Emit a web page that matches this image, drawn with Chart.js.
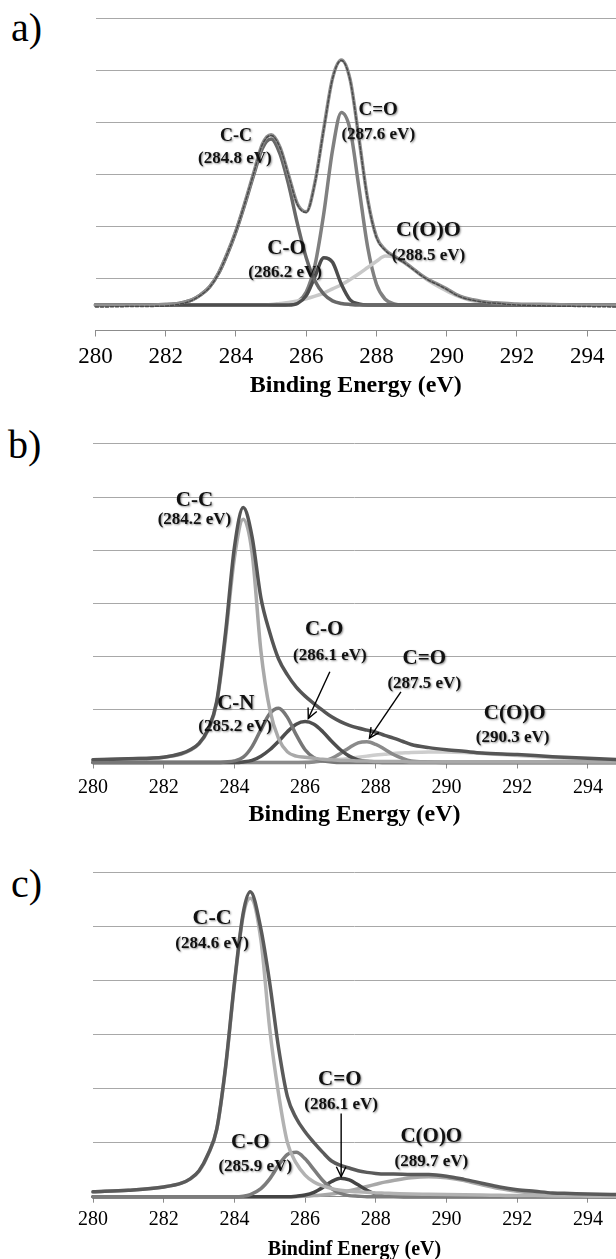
<!DOCTYPE html>
<html><head><meta charset="utf-8">
<script src="https://cdn.jsdelivr.net/npm/chart.js@4.4.1/dist/chart.umd.min.js"></script>
<style>
html,body{margin:0;padding:0;background:#fff;width:616px;height:1259px;overflow:hidden;position:relative;}
.panel{position:absolute;font-family:"Liberation Serif","Times New Roman",serif;font-size:40px;line-height:40px;color:#000;}
canvas{position:absolute;left:0;}
</style></head><body>
<div class="panel" style="left:11px;top:8px">a)</div>
<div class="panel" style="left:8px;top:425px">b)</div>
<div class="panel" style="left:11px;top:864px">c)</div>
<canvas id="ca" width="616" height="410" style="top:0px"></canvas>
<canvas id="cb" width="616" height="420" style="top:415px"></canvas>
<canvas id="cc" width="616" height="430" style="top:840px"></canvas>
<script>
// ---------------- data: panel a ----------------
const energyA = [280,281,282,282.25,282.5,282.75,283,283.25,283.5,283.75,284,284.25,284.5,284.75,285,285.25,285.5,285.75,286,286.25,286.5,286.75,287,287.25,287.5,287.75,288,288.25,288.5,288.75,289,289.25,289.5,289.75,290,290.25,290.5,290.75,291,291.25,291.5,291.75,292,293,294,295];
const measuredA = [.45,.46,.47,.49,.52,.58,.68,.83,1.09,1.47,1.91,2.44,3.01,3.57,3.75,3.52,2.97,2.42,2.27,2.84,3.87,4.84,5.19,4.81,3.69,2.51,1.79,1.54,1.42,1.32,1.2,1.07,.96,.88,.79,.69,.62,.58,.55,.53,.52,.5,.49,.47,.46,.45];
const envelopeA = [.49,.49,.50,.51,.54,.59,.69,.84,1.10,1.48,1.92,2.45,3.02,3.58,3.76,3.53,2.98,2.43,2.28,2.85,3.88,4.85,5.20,4.82,3.70,2.52,1.80,1.55,1.43,1.33,1.21,1.08,.97,.89,.80,.70,.63,.59,.56,.54,.53,.52,.51,.50,.49,.49];
const ccA = [.49,.49,.50,.51,.54,.59,.69,.84,1.09,1.46,1.90,2.42,2.98,3.50,3.68,3.40,2.80,2.05,1.40,.95,.70,.57,.52,.50,.49,.49,.49,.49,.49,.49,.49,.49,.49,.49,.49,.49,.49,.49,.49,.49,.49,.49,.49,.49,.49,.49];
const coA = [.49,.49,.49,.49,.49,.49,.49,.49,.49,.49,.49,.49,.49,.49,.49,.49,.49,.52,.67,1.04,1.40,1.31,.89,.59,.51,.49,.49,.49,.49,.49,.49,.49,.49,.49,.49,.49,.49,.49,.49,.49,.49,.49,.49,.49,.49,.49];
const cdoA = [.49,.49,.49,.49,.49,.49,.49,.49,.49,.49,.49,.49,.49,.49,.49,.49,.50,.55,.74,1.26,2.25,3.47,4.19,3.86,2.75,1.60,.89,.60,.51,.49,.49,.49,.49,.49,.49,.49,.49,.49,.49,.49,.49,.49,.49,.49,.49,.49];
const cooA = [.49,.49,.49,.49,.49,.49,.49,.49,.49,.49,.49,.49,.49,.49,.50,.52,.54,.57,.61,.66,.72,.80,.88,.98,1.09,1.21,1.33,1.43,1.41,1.32,1.20,1.07,.95,.85,.76,.68,.62,.57,.54,.52,.51,.50,.49,.49,.49,.49];

// ---------------- data: panel b ----------------
const energyB = [280,281,282,282.5,282.75,283,283.25,283.5,283.75,284,284.25,284.5,284.75,285,285.25,285.5,285.75,286,286.25,286.5,286.75,287,287.25,287.5,287.75,288,288.25,288.5,288.75,289,289.5,290,290.5,291,292,293,294,295];
const envelopeB = [.05,.07,.10,.17,.24,.36,.62,1.15,2.45,4.05,4.80,4.25,3.10,2.45,1.95,1.65,1.42,1.25,1.11,.98,.86,.77,.70,.65,.61,.57,.51,.46,.40,.34,.28,.24,.21,.18,.15,.11,.08,.05];
const ccB = [.05,.07,.10,.16,.23,.35,.60,1.12,2.35,3.85,4.58,3.95,2.10,1.00,.45,.20,.12,.10,.08,.06,.05,.04,.04,.03,.03,.02,.02,.02,.02,.01,.01,.01,.01,.01,.01,.01,.01,.01];
const cnB = [0,0,0,0,0,0,0,0,.01,.03,.10,.30,.62,.92,1.02,.85,.52,.24,.09,.03,.01,0,0,0,0,0,0,0,0,0,0,0,0,0,0,0,0,0];
const coB = [0,0,0,0,0,0,0,0,0,0,.01,.04,.12,.24,.40,.58,.72,.77,.72,.58,.40,.24,.12,.05,.02,.01,0,0,0,0,0,0,0,0,0,0,0,0];
const cdoB = [0,0,0,0,0,0,0,0,0,0,0,0,0,0,0,0,0,0,.01,.03,.08,.17,.28,.37,.39,.34,.25,.15,.08,.03,.01,0,0,0,0,0,0,0];
const cooB = [0,0,0,0,0,0,0,0,0,0,0,0,0,0,0,0,0,.01,.02,.03,.045,.06,.08,.10,.12,.14,.155,.17,.18,.19,.20,.20,.19,.17,.13,.09,.06,.04];

// ---------------- data: panel c ----------------
const energyC = [280,281,282,282.5,282.75,283,283.25,283.5,283.75,284,284.25,284.45,284.75,285,285.25,285.5,285.75,286,286.25,286.5,286.75,287,287.25,287.5,287.75,288,288.25,288.5,289,289.5,290,290.5,291,291.5,292,292.5,293,293.5,294,295];
const envelopeC = [.09,.12,.18,.25,.33,.48,.78,1.25,2.40,3.95,5.25,5.64,4.95,3.95,2.75,1.85,1.45,1.20,1.00,.82,.66,.58,.53,.48,.45,.43,.42,.42,.41,.41,.38,.32,.25,.18,.13,.10,.07,.06,.05,.04];
const ccC = [.09,.12,.18,.25,.33,.47,.77,1.24,2.38,3.92,5.20,5.52,4.75,3.10,1.90,1.00,.62,.40,.27,.20,.15,.12,.10,.09,.08,.07,.065,.06,.05,.045,.04,.035,.03,.025,.02,.02,.015,.015,.01,.01];
const coC = [0,0,0,0,0,0,0,0,0,0,.01,.04,.15,.33,.58,.78,.82,.70,.50,.30,.15,.06,.02,.01,0,0,0,0,0,0,0,0,0,0,0,0,0,0,0,0];
const cdoC = [0,0,0,0,0,0,0,0,0,0,0,0,0,0,0,0,.01,.03,.08,.17,.28,.34,.31,.22,.12,.05,.02,.01,0,0,0,0,0,0,0,0,0,0,0,0];
const cooC = [0,0,0,0,0,0,0,0,0,0,0,0,0,0,0,0,0,.01,.02,.03,.05,.08,.11,.15,.19,.23,.27,.30,.35,.37,.35,.30,.22,.15,.10,.06,.03,.02,.01,0];

const xTicks = [280,282,284,286,288,290,292,294];

const FONT = '"Liberation Serif","Times New Roman",serif';

function notesPlugin(notes, arrows) {
  return {
    id: 'notes',
    afterDatasetsDraw(chart) {
      const {ctx, scales: {x, y}} = chart;
      ctx.save();
      ctx.textAlign = 'center';
      ctx.textBaseline = 'middle';
      ctx.shadowColor = 'rgba(0,0,0,0.45)';
      ctx.shadowBlur = 2;
      ctx.shadowOffsetX = 1;
      ctx.shadowOffsetY = 1;
      ctx.fillStyle = '#111';
      notes.forEach(n => {
        ctx.font = 'bold ' + n.size + 'px ' + FONT;
        ctx.fillText(n.text, x.getPixelForValue(n.e), y.getPixelForValue(n.v));
      });
      ctx.shadowColor = 'transparent';
      ctx.strokeStyle = '#000';
      ctx.lineWidth = 1.4;
      arrows.forEach(a => {
        const x0 = x.getPixelForValue(a.e0), y0 = y.getPixelForValue(a.v0);
        const x1 = x.getPixelForValue(a.e1), y1 = y.getPixelForValue(a.v1);
        ctx.beginPath(); ctx.moveTo(x0, y0); ctx.lineTo(x1, y1); ctx.stroke();
        const ang = Math.atan2(y1 - y0, x1 - x0), L = 11, W = 0.45;
        ctx.beginPath();
        ctx.moveTo(x1 - L * Math.cos(ang - W), y1 - L * Math.sin(ang - W));
        ctx.lineTo(x1, y1);
        ctx.lineTo(x1 - L * Math.cos(ang + W), y1 - L * Math.sin(ang + W));
        ctx.stroke();
      });
      ctx.restore();
    }
  };
}

function build(id, g, energies, series, notes, arrows) {
  const el = document.getElementById(id);
  const H = el.height;
  new Chart(el, {
    type: 'line',
    data: {
      datasets: series.map(s => ({
        label: s.label,
        data: energies.map((e, i) => (s.values[i] === null ? {x: e, y: null} : {x: e, y: s.values[i]})),
        borderColor: s.color,
        borderWidth: s.width || 3.5,
        borderDash: s.dash || [],
        pointRadius: 0,
        cubicInterpolationMode: 'monotone',
        fill: false,
        clip: false,
        borderCapStyle: 'round',
        borderJoinStyle: 'round'
      }))
    },
    options: {
      responsive: false,
      animation: false,
      devicePixelRatio: 1,
      layout: {padding: {top: g.top, left: 0, right: 0, bottom: 0}},
      plugins: {legend: {display: false}, tooltip: {enabled: false}, title: {display: false}},
      scales: {
        x: {
          type: 'linear', position: 'bottom', min: 280, max: g.xMax,
          afterBuildTicks: s => { s.ticks = xTicks.map(v => ({value: v})); },
          ticks: {autoSkip: false, maxRotation: 0, color: '#000', padding: g.tickPad,
                  font: {family: FONT, size: g.tickSize}, callback: v => String(v)},
          grid: {drawOnChartArea: false, drawTicks: true, tickLength: 6, color: '#8c8c8c', lineWidth: 1},
          border: {display: true, color: '#8c8c8c', width: 1},
          title: {display: true, text: g.title, color: '#000',
                  font: {family: FONT, size: g.titleSize, weight: 'bold'},
                  padding: {top: 0, bottom: g.titlePad}},
          afterFit: s => { s.height = H - g.bottom; }
        },
        y: {
          min: 0, max: 6,
          ticks: {display: false, stepSize: 1},
          grid: {color: '#a8a8a8', lineWidth: 1, drawTicks: false},
          border: {display: false},
          afterFit: s => { s.width = g.left; }
        }
      }
    },
    plugins: [notesPlugin(notes, arrows)]
  });
}

// ---------- panel a ----------
build('ca',
  {top: 18.3, bottom: 330.5, left: 95.5, xMax: 294.82, tickSize: 23, tickPad: 7,
   title: 'Binding Energy (eV)', titleSize: 24, titlePad: 10},
  energyA,
  [
    {label: 'C=O', values: cdoA, color: '#808080'},
    {label: 'C(O)O', values: cooA, color: '#c8c8c8'},
    {label: 'C-O', values: coA, color: '#4d4d4d'},
    {label: 'C-C', values: ccA, color: '#686868'},
    {label: 'Envelope', values: envelopeA, color: '#8e8e8e', width: 3.5},
    {label: 'Measured', values: measuredA, color: '#4a4a4a', width: 1.5, dash: [3, 2]}
  ].reverse(),
  [
    {text: 'C-C', e: 284.0, v: 3.73, size: 18},
    {text: '(284.8 eV)', e: 283.97, v: 3.31, size: 17},
    {text: 'C=O', e: 288.05, v: 4.24, size: 19},
    {text: '(287.6 eV)', e: 288.05, v: 3.77, size: 17},
    {text: 'C-O', e: 285.44, v: 1.58, size: 21},
    {text: '(286.2 eV)', e: 285.4, v: 1.12, size: 17},
    {text: 'C(O)O', e: 289.48, v: 1.93, size: 22},
    {text: '(288.5 eV)', e: 289.48, v: 1.43, size: 17}
  ],
  []
);

// ---------- panel b ----------
build('cb',
  {top: 28.9, bottom: 347.5, left: 93, xMax: 294.795, tickSize: 20, tickPad: 7,
   title: 'Binding Energy (eV)', titleSize: 24, titlePad: 6},
  energyB,
  [
    {label: 'C(O)O', values: cooB, color: '#cdcdcd'},
    {label: 'C=O', values: cdoB, color: '#8a8a8a'},
    {label: 'C-O', values: coB, color: '#4e4e4e'},
    {label: 'C-N', values: cnB, color: '#777777'},
    {label: 'C-C', values: ccB, color: '#a9a9a9'},
    {label: 'Envelope', values: envelopeB, color: '#555555', width: 3.5}
  ].reverse(),
  [
    {text: 'C-C', e: 282.87, v: 4.94, size: 21},
    {text: '(284.2 eV)', e: 282.87, v: 4.58, size: 17},
    {text: 'C-O', e: 286.54, v: 2.51, size: 21},
    {text: '(286.1 eV)', e: 286.70, v: 2.02, size: 17},
    {text: 'C=O', e: 289.37, v: 1.96, size: 21},
    {text: '(287.5 eV)', e: 289.37, v: 1.49, size: 17},
    {text: 'C-N', e: 284.04, v: 1.11, size: 21},
    {text: '(285.2 eV)', e: 284.02, v: 0.67, size: 17},
    {text: 'C(O)O', e: 291.93, v: 0.93, size: 21},
    {text: '(290.3 eV)', e: 291.87, v: 0.46, size: 17}
  ],
  [
    {e0: 286.70, v0: 1.71, e1: 286.09, v1: 0.83},
    {e0: 288.71, v0: 1.33, e1: 287.82, v1: 0.46}
  ]
);

// ---------- panel c ----------
build('cc',
  {top: 32.3, bottom: 356.7, left: 93, xMax: 294.795, tickSize: 20, tickPad: 5,
   title: 'Bindinf Energy (eV)', titleSize: 20, titlePad: 8},
  energyC,
  [
    {label: 'C(O)O', values: cooC, color: '#a8a8a8'},
    {label: 'C=O', values: cdoC, color: '#444444'},
    {label: 'C-O', values: coC, color: '#7c7c7c'},
    {label: 'C-C', values: ccC, color: '#b2b2b2'},
    {label: 'Envelope', values: envelopeC, color: '#5a5a5a', width: 3.5}
  ].reverse(),
  [
    {text: 'C-C', e: 283.37, v: 5.15, size: 22},
    {text: '(284.6 eV)', e: 283.37, v: 4.69, size: 17},
    {text: 'C=O', e: 286.98, v: 2.17, size: 21},
    {text: '(286.1 eV)', e: 287.02, v: 1.70, size: 17},
    {text: 'C-O', e: 284.45, v: 1.0, size: 21},
    {text: '(285.9 eV)', e: 284.59, v: 0.55, size: 17},
    {text: 'C(O)O', e: 289.57, v: 1.11, size: 21},
    {text: '(289.7 eV)', e: 289.57, v: 0.65, size: 17}
  ],
  [
    {e0: 287.02, v0: 1.54, e1: 287.02, v1: 0.37}
  ]
);
</script>
</body></html>
